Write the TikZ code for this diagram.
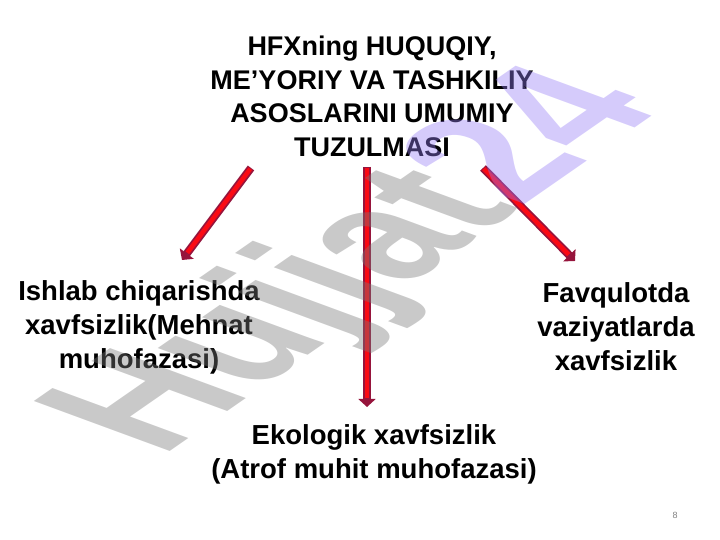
\documentclass[tikz,border=0pt]{standalone}
\usepackage{fontspec}
\setmainfont{Liberation Sans}
\usepackage{tikz}
\usetikzlibrary{positioning}
\usetikzlibrary{calc}
\usetikzlibrary{arrows.meta}

\definecolor{arrowred}{RGB}{250,10,20}
\definecolor{arrowedge}{RGB}{150,20,60}
\definecolor{wmgray}{RGB}{120,120,120}
\definecolor{wmviolet}{RGB}{150,125,245}

\begin{document}
\begin{tikzpicture}[x=1pt,y=1pt,
  heading/.style={align=center, inner sep=0pt, anchor=north, font=\bfseries\fontsize{27}{33.5}\selectfont},
  branch/.style={align=center, inner sep=0pt, anchor=north, font=\bfseries\fontsize{27.5}{34}\selectfont},
  bigarrow/.style={line width=8pt, draw=arrowedge, -{Triangle[length=8pt,width=17pt]},
    postaction={draw=arrowred, line width=4.5pt, -, shorten >=9pt, shorten <=1pt}}]
  \useasboundingbox (0,0) rectangle (720,540);

  \node[heading] (a) at (372,504) {HFXning HUQUQIY,\\ ME’YORIY VA TASHKILIY\\ ASOSLARINI UMUMIY\\ TUZULMASI};
  \node[branch] (b) at (139,260) {Ishlab chiqarishda\\ xavfsizlik(Mehnat\\ muhofazasi)};
  \node[branch] (c) at (616,258) {Favqulotda\\ vaziyatlarda\\ xavfsizlik};
  \node[branch] (d) at (374,116) {Ekologik xavfsizlik\\ (Atrof muhit muhofazasi)};

  \coordinate (a1) at (251,372);
  \coordinate (a2) at (367,373);
  \coordinate (a3) at (483,372);
  \coordinate (b1) at (182,280);
  \coordinate (d1) at (367,133);
  \coordinate (c1) at (575,279);

  \draw[bigarrow] (a1) -- (b1);
  \draw[bigarrow] (a2) -- (d1);
  \draw[bigarrow] (a3) -- (c1);

  % page number
  \node[font=\fontsize{9}{10}\selectfont, text=gray] (p) at (675,25) {8};

  % watermark
  \begin{scope}[shift={(362,276)}, cm={0.82,0.57,-1.25,0.46,(0,0)}]
    \node[transform shape, inner sep=0pt, text opacity=0.4, font=\bfseries\fontsize{158}{162}\selectfont] (w) at (0,0) {\textcolor{wmgray}{Hujjat}\textcolor{wmviolet}{24}};
  \end{scope}
\end{tikzpicture}
\end{document}
